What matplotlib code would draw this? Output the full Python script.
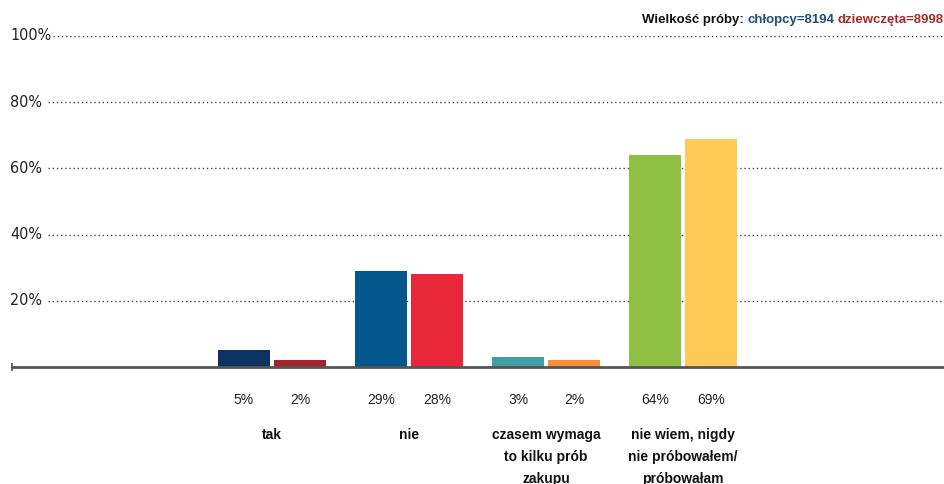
import matplotlib.pyplot as plt
import numpy as np
from matplotlib import font_manager

# data
categories = ['tak', 'nie', 'czasem wymaga\nto kilku prób\nzakupu',
              'nie wiem, nigdy\nnie próbowałem/\npróbowałam']
boys = [5, 29, 3, 64]
girls = [2, 28, 2, 69]
boys_colors = ['#0b3460', '#04578c', '#429ea6', '#8fc043']
girls_colors = ['#a3232a', '#e8283a', '#f78f3a', '#fec957']
yticks = [20, 40, 60, 80, 100]

# look for a regular-weight condensed face for the y labels
cond = None
for f in font_manager.fontManager.ttflist:
    narrowish = ('Narrow' in f.name or 'Condensed' in f.name
                 or 'condensed' in str(f.stretch))
    if narrowish and f.style == 'normal' and f.weight in (400, 'normal', 'regular'):
        cond = f.fname
        break

plt.rcParams['font.family'] = ['Liberation Sans', 'DejaVu Sans']

W, H = 944, 484
fig = plt.figure(figsize=(W / 100, H / 100), dpi=100)
left, right, base, top = 12, 944, 367, 36
ax = fig.add_axes([left / W, (H - base) / H, (right - left) / W, (base - top) / H])

step = 137.0
c0 = 272.0
ax.set_xlim((left - c0) / step, (right - c0) / step)
ax.set_ylim(0, 100)
for s in ax.spines.values():
    s.set_visible(False)
ax.set_xticks([])
ax.set_yticks([])

x = np.arange(len(categories))
bw = 52 / step
off = 28 / step
ax.bar(x - off, boys, bw, color=boys_colors, zorder=3)
ax.bar(x + off, girls, bw, color=girls_colors, zorder=3)

# y labels, then gridlines starting just after them
if cond:
    yprops = dict(fontproperties=font_manager.FontProperties(fname=cond, size=11.5))
else:
    yprops = dict(fontsize=11, family='Liberation Sans')
fig.canvas.draw()
r = fig.canvas.get_renderer()
for t in yticks:
    lab = ax.text((10 - c0) / step, t, '%d%%' % t, ha='left', va='center',
                  color='#222222', clip_on=False, **yprops)
    end = lab.get_window_extent(r).x1 + 2
    start = max(48, end)
    ax.axhline(t, xmin=(start - left) / (right - left), xmax=1, color='#444444',
               lw=1, ls=(0, (1, 2)), zorder=1)

# baseline
ax.axhline(0, color='#555555', lw=2, zorder=4, clip_on=False)
ax.plot([ax.get_xlim()[0]], [0], marker='|', color='#555555', markersize=6,
        mew=1.2, clip_on=False, zorder=5)

# value labels and categories
for i in range(len(categories)):
    ax.text(x[i] - off, -33 / 331 * 100, '%d%%' % boys[i], ha='center', va='center',
            fontsize=10, color='#222222', clip_on=False)
    ax.text(x[i] + off, -33 / 331 * 100, '%d%%' % girls[i], ha='center', va='center',
            fontsize=10, color='#222222', clip_on=False)
    ax.text(x[i], -61 / 331 * 100, categories[i], ha='center', va='top',
            fontsize=10, fontweight='bold', color='#111111', linespacing=1.72,
            clip_on=False)

# sample size note, right aligned, three colours
xr = 943
parts = [('dziewczęta=8998', '#a52a2a'), ('chłopcy=8194', '#1f4e79'),
         ('Wielkość próby:', '#111111')]
for s, c in parts:
    t = fig.text(xr / W, 1 - 20 / H, s, ha='right', va='center', fontsize=9.5,
                 fontweight='bold', color=c)
    bb = t.get_window_extent(r)
    xr = bb.x0 - 3

fig.savefig('out.png', dpi=100)
